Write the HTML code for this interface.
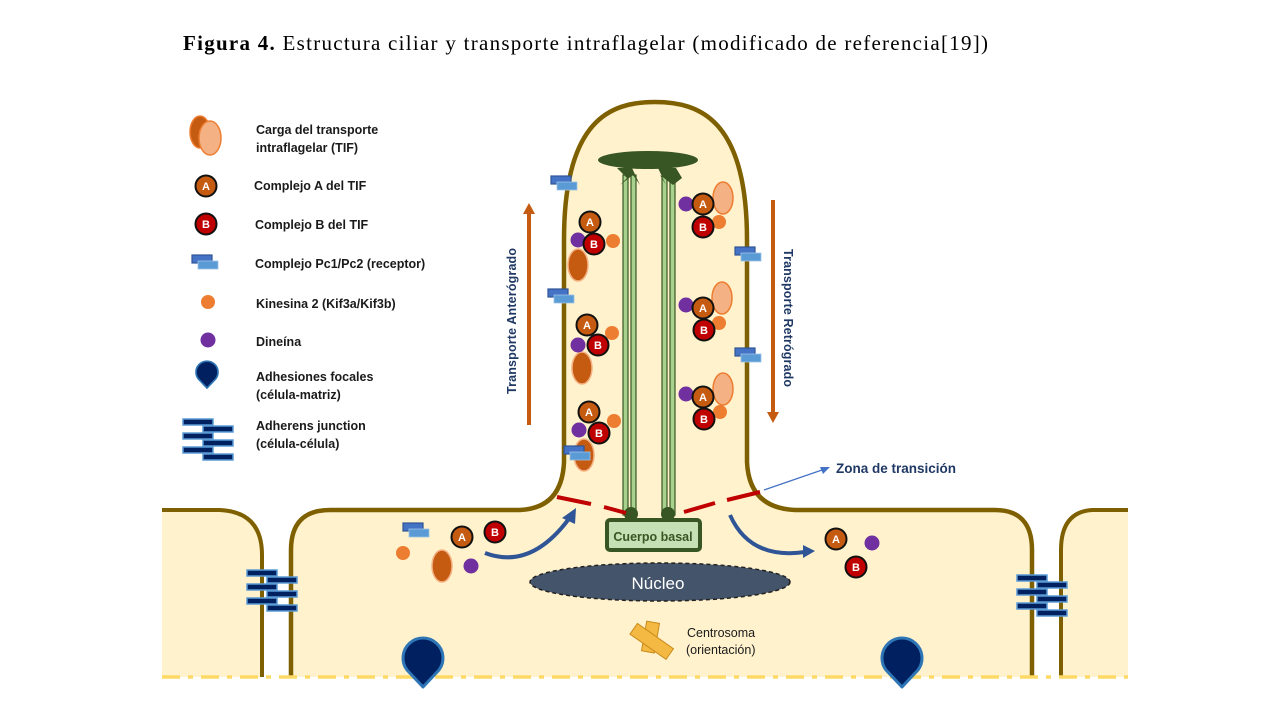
<!DOCTYPE html>
<html><head><meta charset="utf-8"><style>
html,body{margin:0;padding:0;background:#fff;width:1280px;height:720px;overflow:hidden}
svg{display:block}
.lg{font-family:"Liberation Sans",sans-serif;font-weight:bold;font-size:12.5px;fill:#1a1a1a}
.ab{font-family:"Liberation Sans",sans-serif;font-weight:bold;font-size:11px;fill:#fff;text-anchor:middle}
</style></head><body>
<svg width="1280" height="720" viewBox="0 0 1280 720" xmlns="http://www.w3.org/2000/svg">
<defs>
<g id="A"><circle r="10.5" fill="#c55a11" stroke="#111" stroke-width="2"/><text class="ab" y="4">A</text></g>
<g id="B"><circle r="10.5" fill="#c00000" stroke="#111" stroke-width="2"/><text class="ab" y="4">B</text></g>
<g id="K"><circle r="7" fill="#ed7d31"/></g>
<g id="D"><circle r="7.5" fill="#7030a0"/></g>
<g id="P"><rect x="-12" y="-7" width="20" height="8" fill="#4472c4" stroke="#2f5597" stroke-width="1.2"/><rect x="-6" y="-1" width="20" height="8" fill="#5b9bd5" stroke="#9dc3e6" stroke-width="0.8"/></g>
<g id="CL"><ellipse rx="10" ry="16" fill="#f4b183" stroke="#ed7d31" stroke-width="1.5"/></g>
<g id="CD"><ellipse rx="10" ry="16" fill="#c55a11" stroke="#f4b183" stroke-width="1.5"/></g>
<g id="J">
<rect x="-28" y="-18" width="30" height="6" fill="#002060" stroke="#5b9bd5" stroke-width="1.5"/>
<rect x="-8" y="-11" width="30" height="6" fill="#002060" stroke="#5b9bd5" stroke-width="1.5"/>
<rect x="-28" y="-4" width="30" height="6" fill="#002060" stroke="#5b9bd5" stroke-width="1.5"/>
<rect x="-8" y="3" width="30" height="6" fill="#002060" stroke="#5b9bd5" stroke-width="1.5"/>
<rect x="-28" y="10" width="30" height="6" fill="#002060" stroke="#5b9bd5" stroke-width="1.5"/>
<rect x="-8" y="17" width="30" height="6" fill="#002060" stroke="#5b9bd5" stroke-width="1.5"/>
</g>
<g id="F"><path d="M0,22 L-16,5 A20,20 0 1 1 16,5 Z" fill="#002060" stroke="#2e75b6" stroke-width="3" stroke-linejoin="round"/></g>
</defs>

<text x="183" y="50" font-family="Liberation Serif,serif" font-size="21" fill="#000" textLength="805" lengthAdjust="spacing"><tspan font-weight="bold">Figura  4.</tspan> Estructura ciliar y transporte intraflagelar (modificado de referencia[19])</text>

<!-- cells -->
<path d="M162,510 L220,510 Q262,512 262,555 L262,677 L162,677 Z" fill="#fff2cc"/>
<path d="M162,510 L220,510 Q262,512 262,555 L262,677" fill="none" stroke="#7f6000" stroke-width="4"/>
<path d="M1128,510 L1092,510 Q1061,512 1061,550 L1061,677 L1128,677 Z" fill="#fff2cc"/>
<path d="M1128,510 L1092,510 Q1061,512 1061,550 L1061,677" fill="none" stroke="#7f6000" stroke-width="4"/>
<path d="M291,677 L291,550 Q291,510 330,510 L520,510 Q562,508 564,462 L564,240 C564,120 610,102 655,102 C700,102 747,120 747,240 L747,462 Q749,508 795,510 L995,510 Q1032,510 1032,550 L1032,677 Z" fill="#fff2cc"/>
<path d="M291,677 L291,550 Q291,510 330,510 L520,510 Q562,508 564,462 L564,240 C564,120 610,102 655,102 C700,102 747,120 747,240 L747,462 Q749,508 795,510 L995,510 Q1032,510 1032,550 L1032,677" fill="none" stroke="#7f6000" stroke-width="4.5"/>
<line x1="162" y1="677" x2="1128" y2="677" stroke="#ffd966" stroke-width="3.5" stroke-dasharray="18,8,5,8"/>

<!-- axoneme -->
<g stroke="#375623" stroke-width="1.2" fill="#a9d18e">
<rect x="623" y="175" width="5" height="340"/><rect x="631" y="175" width="5" height="340"/>
<rect x="662" y="175" width="5" height="340"/><rect x="670" y="175" width="5" height="340"/>
</g>
<ellipse cx="648" cy="160" rx="50" ry="9" fill="#375623"/>
<path d="M617,168 L627,178 L620,185 L633,175 L640,185 L632,168Z" fill="#375623"/>
<path d="M658,168 L666,185 L660,175 L673,185 L682,178 L676,168Z" fill="#375623"/>
<circle cx="631" cy="514" r="7" fill="#375623"/><circle cx="668" cy="514" r="7" fill="#375623"/>
<rect x="607" y="520" width="93" height="30" rx="3" fill="#c5e0b4" stroke="#375623" stroke-width="4"/>
<text x="653" y="541" text-anchor="middle" class="lg" style="fill:#375623" font-size="12">Cuerpo basal</text>
<ellipse cx="660" cy="582" rx="130" ry="19" fill="#44546a" stroke="#222" stroke-width="1.5" stroke-dasharray="4,3"/>
<text x="658" y="589" text-anchor="middle" font-family="Liberation Sans,sans-serif" font-size="17" fill="#fff">Núcleo</text>

<!-- transition zone -->
<g stroke="#c00000" stroke-width="4">
<line x1="557" y1="497" x2="591" y2="504"/><line x1="604" y1="507" x2="626" y2="513"/>
<line x1="684" y1="512" x2="715" y2="503"/><line x1="727" y1="500" x2="760" y2="492"/>
</g>
<line x1="764" y1="490" x2="822" y2="470" stroke="#4472c4" stroke-width="1.2"/>
<path d="M830,467 L820,467 L823,474Z" fill="#4472c4"/>
<text x="836" y="473" class="lg" style="fill:#1f3864;font-size:13.5px">Zona de transición</text>

<!-- transport arrows -->
<line x1="529" y1="425" x2="529" y2="212" stroke="#c55a11" stroke-width="4"/>
<path d="M523,214 L529,203 L535,214Z" fill="#c55a11"/>
<line x1="773" y1="200" x2="773" y2="414" stroke="#c55a11" stroke-width="4"/>
<path d="M767,412 L773,423 L779,412Z" fill="#c55a11"/>
<text transform="translate(516,321) rotate(-90)" text-anchor="middle" class="lg" style="fill:#1f3864" textLength="146" lengthAdjust="spacing">Transporte  Anterógrado</text>
<text transform="translate(784,318) rotate(90)" text-anchor="middle" class="lg" style="fill:#1f3864" textLength="138" lengthAdjust="spacing">Transporte  Retrógrado</text>

<!-- left cilium groups -->
<use href="#CD" x="578" y="265"/><use href="#D" x="578" y="240"/><use href="#K" x="613" y="241"/><use href="#A" x="590" y="222"/><use href="#B" x="594" y="244"/>
<use href="#CD" x="582" y="368"/><use href="#D" x="578" y="345"/><use href="#K" x="612" y="333"/><use href="#A" x="587" y="325"/><use href="#B" x="598" y="345"/>
<use href="#CD" x="584" y="455"/><use href="#D" x="579" y="430"/><use href="#K" x="614" y="421"/><use href="#A" x="589" y="412"/><use href="#B" x="599" y="433"/>
<use href="#P" x="563" y="183"/><use href="#P" x="560" y="296"/><use href="#P" x="576" y="453"/>
<!-- right cilium groups -->
<use href="#CL" x="723" y="198"/><use href="#D" x="686" y="204"/><use href="#K" x="719" y="222"/><use href="#A" x="703" y="204"/><use href="#B" x="703" y="227"/>
<use href="#CL" x="722" y="298"/><use href="#D" x="686" y="305"/><use href="#K" x="719" y="323"/><use href="#A" x="703" y="308"/><use href="#B" x="704" y="330"/>
<use href="#CL" x="723" y="389"/><use href="#D" x="686" y="394"/><use href="#K" x="720" y="412"/><use href="#A" x="703" y="397"/><use href="#B" x="704" y="419"/>
<use href="#P" x="747" y="254"/><use href="#P" x="747" y="355"/>

<!-- curved arrows -->
<path d="M485,553 Q530,570 568,520" fill="none" stroke="#2f5597" stroke-width="4"/>
<path d="M562,518 L576,508 L575,524Z" fill="#2f5597"/>
<path d="M730,515 Q750,560 805,552" fill="none" stroke="#2f5597" stroke-width="4"/>
<path d="M803,545 L815,551 L803,558Z" fill="#2f5597"/>

<!-- body molecules -->
<use href="#P" x="415" y="530"/><use href="#K" x="403" y="553"/><use href="#A" x="462" y="537"/><use href="#B" x="495" y="532"/>
<use href="#CD" x="442" y="566"/><use href="#D" x="471" y="566"/>
<use href="#A" x="836" y="539"/><use href="#B" x="856" y="567"/><use href="#D" x="872" y="543"/>

<!-- centrosome -->
<g fill="#f4b942" stroke="#c98a1a" stroke-width="1">
<rect x="644" y="622" width="13" height="30" transform="rotate(10 650 637)"/>
<rect x="630" y="635" width="44" height="13" transform="rotate(35 652 641)"/>
</g>
<text x="687" y="637" class="lg" style="font-weight:normal">Centrosoma</text>
<text x="686" y="654" class="lg" style="font-weight:normal">(orientación)</text>

<!-- junctions & adhesions -->
<use href="#J" x="275" y="588"/>
<use href="#J" x="1045" y="593"/>
<use href="#F" x="423" y="665"/>
<use href="#F" x="902" y="665"/>

<!-- legend -->
<ellipse cx="200" cy="132" rx="10" ry="16" fill="#c55a11" stroke="#ed7d31" stroke-width="1.5"/>
<ellipse cx="210" cy="138" rx="11" ry="17" fill="#f4b183" stroke="#ed7d31" stroke-width="1.5"/>
<text x="256" y="134" class="lg">Carga del transporte</text>
<text x="256" y="152" class="lg">intraflagelar (TIF)</text>
<use href="#A" x="206" y="186"/><text x="254" y="190" class="lg">Complejo A del TIF</text>
<use href="#B" x="206" y="224"/><text x="255" y="229" class="lg">Complejo B del TIF</text>
<use href="#P" x="204" y="262"/><text x="255" y="268" class="lg">Complejo Pc1/Pc2 (receptor)</text>
<use href="#K" x="208" y="302"/><text x="256" y="308" class="lg">Kinesina 2 (Kif3a/Kif3b)</text>
<use href="#D" x="208" y="340"/><text x="256" y="346" class="lg">Dineína</text>
<g transform="translate(207,376) scale(0.55)"><use href="#F"/></g>
<text x="256" y="381" class="lg">Adhesiones focales</text>
<text x="256" y="399" class="lg">(célula-matriz)</text>
<g transform="translate(211,437)"><use href="#J"/></g>
<text x="256" y="430" class="lg">Adherens junction</text>
<text x="256" y="448" class="lg">(célula-célula)</text>
</svg>
</body></html>
